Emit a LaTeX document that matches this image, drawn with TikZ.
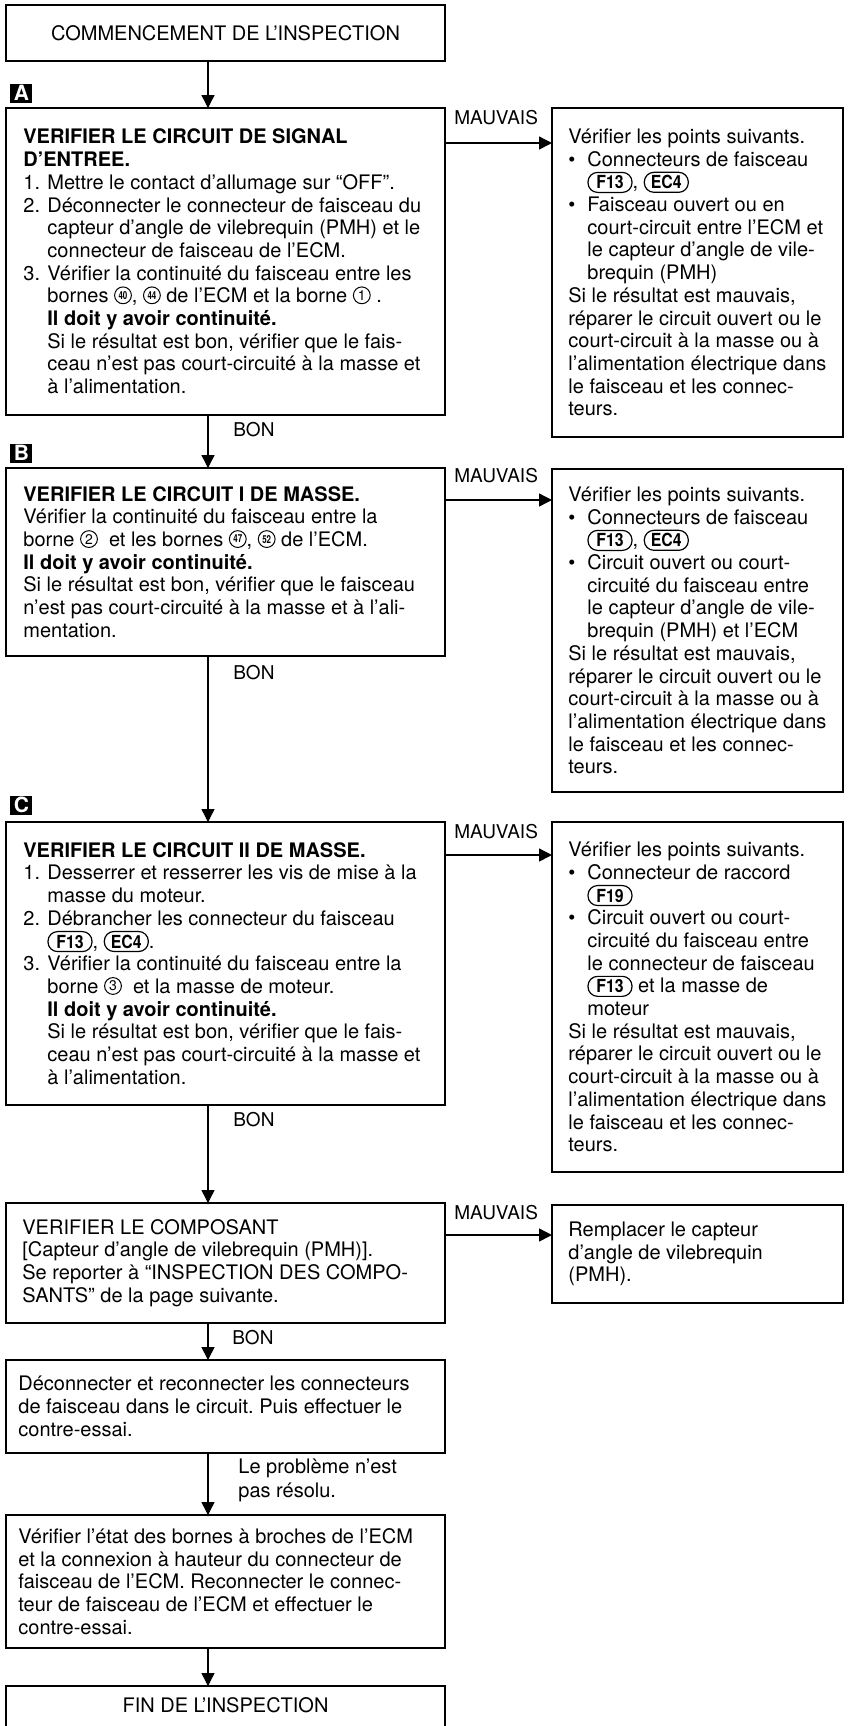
\documentclass[tikz,border=0pt]{standalone}
\usepackage{fontspec}
\setmainfont{TeX Gyre Heros}
\usepackage{graphicx}
\usetikzlibrary{arrows.meta}
\frenchspacing

% connector code in a capsule, e.g. F13
\newcommand{\conn}[1]{\tikz[baseline=(cn.base)]\node[draw, line width=0.6pt, rounded corners=4.8pt,
  minimum width=22pt, minimum height=10pt, inner sep=0pt, anchor=center,
  font=\fontsize{9}{9}\selectfont\bfseries] (cn) {\scalebox{0.88}[1]{#1}};}
% circled terminal numbers (one and two digits)
\newcommand{\circnum}[1]{\tikz[baseline={([yshift=0.7pt]cc.south)}]\node[draw, circle, line width=0.5pt,
  minimum size=8.4pt, inner sep=0pt, anchor=center, font=\fontsize{7}{7}\selectfont] (cc) {#1};}
\newcommand{\circnumw}[1]{\tikz[baseline={([yshift=0.7pt]cc.south)}]\node[draw, circle, line width=0.5pt,
  minimum size=8.4pt, inner sep=0pt, anchor=center, font=\fontsize{5.5}{5.5}\selectfont\bfseries] (cc) {\scalebox{0.72}[1]{#1}};}
% numbered items and bullets with hanging indent
\newcommand{\nitem}[1]{\makebox[12pt][l]{#1}}
\newcommand{\nind}{\hspace*{12pt}}
\newcommand{\bul}{\makebox[9.5pt][l]{\textbullet}}
\newcommand{\bulind}{\hspace*{9.5pt}}

\tikzset{
  stepbox/.style={draw, line width=0.8pt, inner sep=0pt, outer sep=0pt, anchor=north west},
  bodytext/.style={inner sep=0pt, align=left, anchor=west, font=\fontsize{10}{11.35}\selectfont},
  edgelabel/.style={inner sep=0pt, align=left, font=\fontsize{9.5}{12}\selectfont},
  lettertag/.style={fill=black, text=white, inner sep=0pt, minimum width=11pt, minimum height=9.5pt,
    anchor=south west, font=\fontsize{10.5}{10.5}\selectfont\bfseries},
  flowarrow/.style={line width=0.7pt, -{Triangle[width=6.5pt,length=6.5pt]}},
}

\begin{document}
\begin{tikzpicture}[x=0.5pt, y=-0.5pt]
\useasboundingbox (0,0) rectangle (848,1726);
\clip (0,0) rectangle (848,1726);
\fill[white] (0,0) rectangle (848,1726);
\coordinate (spine) at (208,0);

% ---------- main column ----------
\node[stepbox, minimum width=219.5pt, minimum height=28pt, font=\fontsize{10}{12}\selectfont] (start) at (6,5)
  {COMMENCEMENT DE L’INSPECTION};

\node[stepbox, minimum width=219.5pt, minimum height=153.5pt] (chkA) at (6,108) {};
\node[bodytext] (chkAT) at ([xshift=8.5pt]chkA.west) {%
{\bfseries VERIFIER LE CIRCUIT DE SIGNAL}\\
{\bfseries D’ENTREE.}\\
\nitem{1.}Mettre le contact d’allumage sur “OFF”.\\
\nitem{2.}Déconnecter le connecteur de faisceau du\\
\nind capteur d’angle de vilebrequin (PMH) et le\\
\nind connecteur de faisceau de l’ECM.\\
\nitem{3.}Vérifier la continuité du faisceau entre les\\
\nind bornes \circnumw{40}, \circnumw{44} de l’ECM et la borne \circnum{1} .\\
\nind{\bfseries Il doit y avoir continuité.}\\
\nind Si le résultat est bon, vérifier que le fais-\\
\nind ceau n’est pas court-circuité à la masse et\\
\nind à l’alimentation.};

\node[stepbox, minimum width=219.5pt, minimum height=94pt] (chkB) at (6,468) {};
\node[bodytext] (chkBT) at ([xshift=8.5pt]chkB.west) {%
{\bfseries VERIFIER LE CIRCUIT I DE MASSE.}\\
Vérifier la continuité du faisceau entre la\\
borne \circnum{2}\ \ et les bornes \circnumw{47}, \circnumw{52} de l’ECM.\\
{\bfseries Il doit y avoir continuité.}\\
Si le résultat est bon, vérifier que le faisceau\\
n’est pas court-circuité à la masse et à l’ali-\\
mentation.};

\node[stepbox, minimum width=219.5pt, minimum height=141.5pt] (chkC) at (6,822) {};
\node[bodytext] (chkCT) at ([xshift=8.5pt]chkC.west) {%
{\bfseries VERIFIER LE CIRCUIT II DE MASSE.}\\
\nitem{1.}Desserrer et resserrer les vis de mise à la\\
\nind masse du moteur.\\
\nitem{2.}Débrancher les connecteur du faisceau\\
\nind\conn{F13}, \conn{EC4}.\\
\nitem{3.}Vérifier la continuité du faisceau entre la\\
\nind borne \circnum{3}\ \ et la masse de moteur.\\
\nind{\bfseries Il doit y avoir continuité.}\\
\nind Si le résultat est bon, vérifier que le fais-\\
\nind ceau n’est pas court-circuité à la masse et\\
\nind à l’alimentation.};

\node[stepbox, minimum width=219.5pt, minimum height=60pt] (chkD) at (6,1203) {};
\node[bodytext] (chkDT) at ([xshift=8pt]chkD.west) {%
VERIFIER LE COMPOSANT\\
{[}Capteur d’angle de vilebrequin (PMH)].\\
Se reporter à “INSPECTION DES COMPO-\\
SANTS” de la page suivante.};

\node[stepbox, minimum width=219.5pt, minimum height=46.5pt] (recon) at (6,1360) {};
\node[bodytext] (reconT) at ([xshift=6pt]recon.west) {%
Déconnecter et reconnecter les connecteurs\\
de faisceau dans le circuit. Puis effectuer le\\
contre-essai.};

\node[stepbox, minimum width=219.5pt, minimum height=66.5pt] (ecm) at (6,1515) {};
\node[bodytext] (ecmT) at ([xshift=6pt]ecm.west) {%
Vérifier l’état des bornes à broches de l’ECM\\
et la connexion à hauteur du connecteur de\\
faisceau de l’ECM. Reconnecter le connec-\\
teur de faisceau de l’ECM et effectuer le\\
contre-essai.};

\node[stepbox, minimum width=219.5pt, minimum height=60pt] (fin) at (6,1686) {};
\node[bodytext, anchor=center] (finT) at ([yshift=-9.5pt]fin.north) {FIN DE L’INSPECTION};

% ---------- repair column ----------
\node[stepbox, minimum width=145.5pt, minimum height=164.5pt] (repA) at (552,108) {};
\node[bodytext] (repAT) at ([xshift=8pt]repA.west) {%
Vérifier les points suivants.\\
\bul Connecteurs de faisceau\\
\bulind\conn{F13}, \conn{EC4}\\
\bul Faisceau ouvert ou en\\
\bulind court-circuit entre l’ECM et\\
\bulind le capteur d’angle de vile-\\
\bulind brequin (PMH)\\
Si le résultat est mauvais,\\
réparer le circuit ouvert ou le\\
court-circuit à la masse ou à\\
l’alimentation électrique dans\\
le faisceau et les connec-\\
teurs.};

\node[stepbox, minimum width=145.5pt, minimum height=161.5pt] (repB) at (552,469) {};
\node[bodytext] (repBT) at ([xshift=8pt]repB.west) {%
Vérifier les points suivants.\\
\bul Connecteurs de faisceau\\
\bulind\conn{F13}, \conn{EC4}\\
\bul Circuit ouvert ou court-\\
\bulind circuité du faisceau entre\\
\bulind le capteur d’angle de vile-\\
\bulind brequin (PMH) et l’ECM\\
Si le résultat est mauvais,\\
réparer le circuit ouvert ou le\\
court-circuit à la masse ou à\\
l’alimentation électrique dans\\
le faisceau et les connec-\\
teurs.};

\node[stepbox, minimum width=145.5pt, minimum height=175pt] (repC) at (552,822) {};
\node[bodytext] (repCT) at ([xshift=8pt]repC.west) {%
Vérifier les points suivants.\\
\bul Connecteur de raccord\\
\bulind\conn{F19}\\
\bul Circuit ouvert ou court-\\
\bulind circuité du faisceau entre\\
\bulind le connecteur de faisceau\\
\bulind\conn{F13} et la masse de\\
\bulind moteur\\
Si le résultat est mauvais,\\
réparer le circuit ouvert ou le\\
court-circuit à la masse ou à\\
l’alimentation électrique dans\\
le faisceau et les connec-\\
teurs.};

\node[stepbox, minimum width=145.5pt, minimum height=49pt] (repD) at (552,1205) {};
\node[bodytext] (repDT) at ([xshift=8pt]repD.west) {%
Remplacer le capteur\\
d’angle de vilebrequin\\
(PMH).};

% ---------- step letters ----------
\node[lettertag] (tagA) at ([xshift=2pt, yshift=2.5pt]chkA.north west) {A};
\node[lettertag] (tagB) at ([xshift=2pt, yshift=2.5pt]chkB.north west) {B};
\node[lettertag] (tagC) at ([xshift=2pt, yshift=3.5pt]chkC.north west) {C};

% ---------- downward flow ----------
\draw[flowarrow] (start.south -| spine) -- (chkA.north -| spine);
\draw[flowarrow] (chkA.south -| spine) -- (chkB.north -| spine);
\draw[flowarrow] (chkB.south -| spine) -- (chkC.north -| spine);
\draw[flowarrow] (chkC.south -| spine) -- (chkD.north -| spine);
\draw[flowarrow] (chkD.south -| spine) -- (recon.north -| spine);
\draw[flowarrow] (recon.south -| spine) -- (ecm.north -| spine);
\draw[flowarrow] (ecm.south -| spine) -- (fin.north -| spine);

\coordinate (jA) at (chkA.south -| spine);
\coordinate (jB) at (chkB.south -| spine);
\coordinate (jC) at (chkC.south -| spine);
\coordinate (jD) at (chkD.south -| spine);
\coordinate (jE) at (recon.south -| spine);
\node[edgelabel, anchor=west] (bonA) at ([xshift=12.5pt, yshift=-7.5pt]jA) {BON};
\node[edgelabel, anchor=west] (bonB) at ([xshift=12.5pt, yshift=-8.5pt]jB) {BON};
\node[edgelabel, anchor=west] (bonC) at ([xshift=12.5pt, yshift=-7.5pt]jC) {BON};
\node[edgelabel, anchor=west] (bonD) at ([xshift=12pt, yshift=-7.5pt]jD) {BON};
\node[edgelabel, anchor=west, font=\fontsize{10}{12}\selectfont] (nores) at ([xshift=15pt, yshift=-13.5pt]jE)
  {Le problème n’est\\pas résolu.};

% ---------- MAUVAIS branches ----------
\coordinate (mA) at ([yshift=-17.5pt]chkA.north east);
\coordinate (mB) at ([yshift=-16pt]chkB.north east);
\coordinate (mC) at ([yshift=-16.5pt]chkC.north east);
\coordinate (mD) at ([yshift=-16pt]chkD.north east);
\draw[flowarrow] (mA) -- (mA -| repA.west);
\draw[flowarrow] (mB) -- (mB -| repB.west);
\draw[flowarrow] (mC) -- (mC -| repC.west);
\draw[flowarrow] (mD) -- (mD -| repD.west);
\node[edgelabel, anchor=west] (badA) at ([xshift=4.5pt, yshift=-5pt]chkA.north east) {MAUVAIS};
\node[edgelabel, anchor=west] (badB) at ([xshift=4.5pt, yshift=-4pt]chkB.north east) {MAUVAIS};
\node[edgelabel, anchor=west] (badC) at ([xshift=4.5pt, yshift=-5pt]chkC.north east) {MAUVAIS};
\node[edgelabel, anchor=west] (badD) at ([xshift=4.5pt, yshift=-5pt]chkD.north east) {MAUVAIS};
\end{tikzpicture}
\end{document}
